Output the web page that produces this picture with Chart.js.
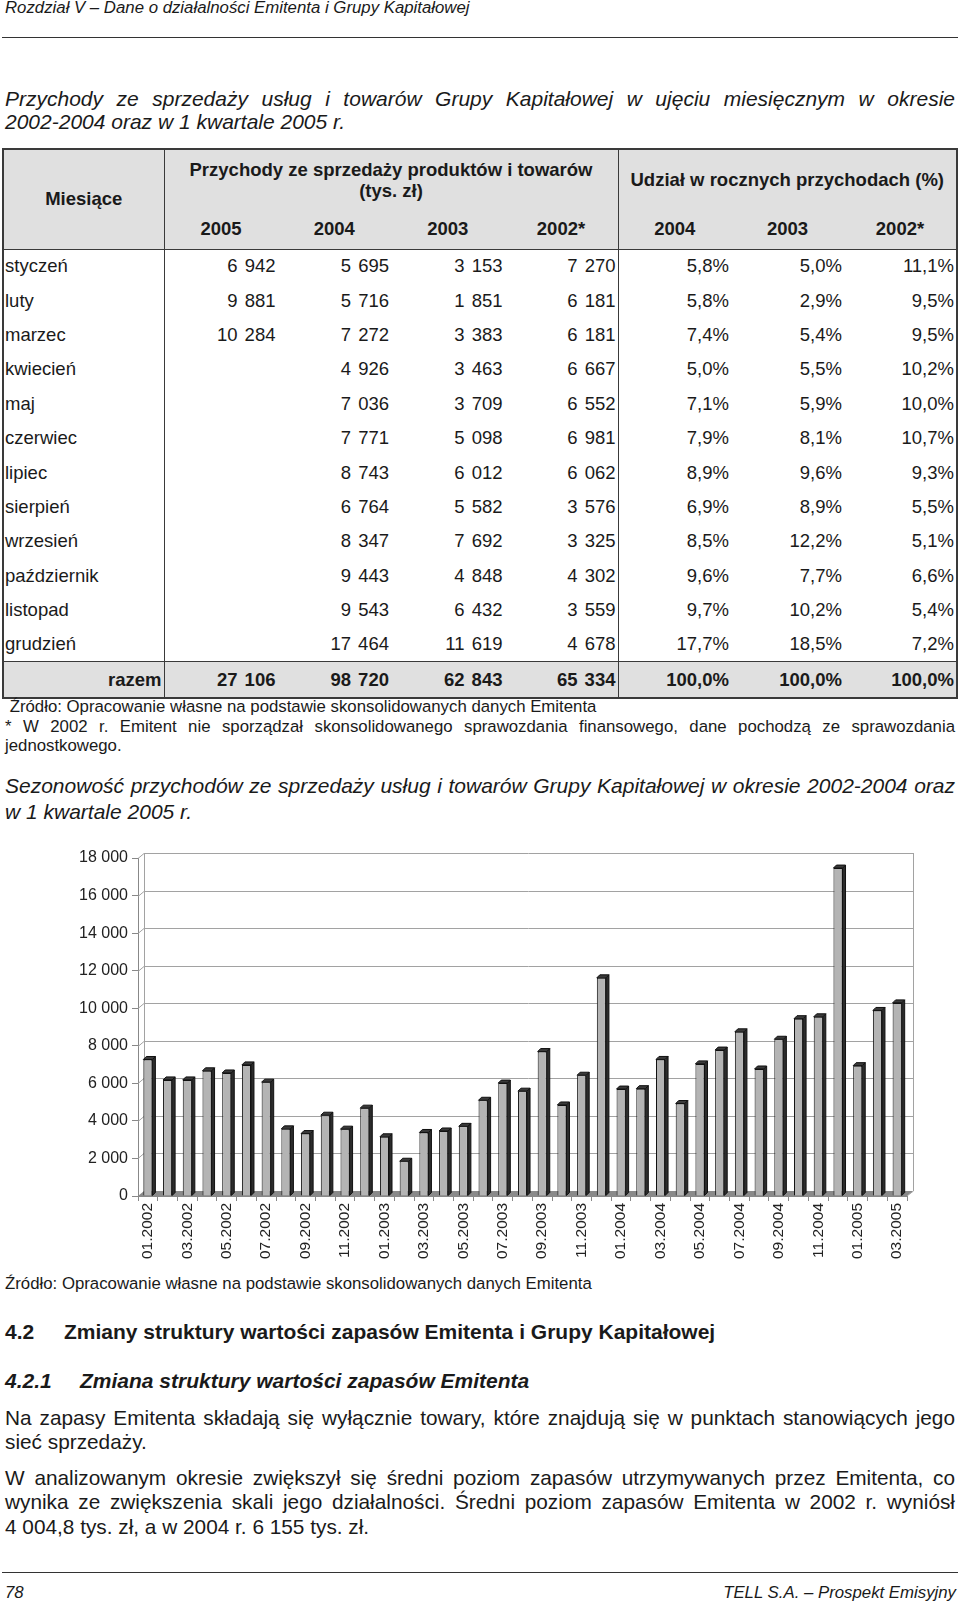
<!DOCTYPE html>
<html lang="pl">
<head>
<meta charset="utf-8">
<title>Sezonowość przychodów</title>
<script src="https://cdn.jsdelivr.net/npm/chart.js@4.4.0/dist/chart.umd.min.js"></script>
<style>
body{margin:0;width:960px;height:1605px;position:relative;overflow:hidden;background:#fff;
  font-family:"Liberation Sans",Arial,Helvetica,sans-serif;color:#1a1a1a}
.t{position:absolute;white-space:nowrap}
.it{font-style:italic}
.rule{position:absolute;left:2px;width:956px;height:1px;background:#333}
.hdr{font-size:16.8px;line-height:18px}
.tit{font-size:21px;line-height:24px;font-style:italic}
.sm{font-size:16.8px;line-height:19px}
.par{font-size:20.8px;line-height:24px}
.h{font-size:21px;line-height:24px;font-weight:bold}
#tab{position:absolute;left:2px;top:148px;border-collapse:collapse;table-layout:fixed;
  border:2px solid #3a3a3a;font-size:18.5px}
#tab td,#tab th{padding:0 2px;white-space:nowrap;overflow:visible}
#tab thead th{background:#e0e0e0;font-weight:bold;font-size:18.5px;text-align:center;vertical-align:middle}
#tab thead tr.r1{height:60px}
#tab thead tr.r2{height:40px}
#tab thead tr.r2 th{border-bottom:1.5px solid #3a3a3a}
#tab tbody tr{height:34.4px}
#tab td{text-align:right;word-spacing:2px}
#tab td.m{text-align:left;padding-left:1px;word-spacing:0}
#tab .sep{border-right:1.5px solid #3a3a3a}
#tab tr.tot td{background:#e0e0e0;font-weight:bold;height:35px;border-top:1.5px solid #3a3a3a}
#wrap{position:absolute;left:0;top:838px;width:960px;height:432px}
</style>
</head>
<body>

<div class="t hdr it" style="left:5px;top:-1px">Rozdział V – Dane o działalności Emitenta i Grupy Kapitałowej</div>
<div class="rule" style="top:37px"></div>

<div class="t tit j" style="left:5px;top:87px">Przychody ze sprzedaży usług i towarów Grupy Kapitałowej w ujęciu miesięcznym w okresie</div>
<div class="t tit" style="left:5px;top:110px">2002-2004 oraz w 1 kwartale 2005 r.</div>

<table id="tab">
<colgroup>
<col style="width:161px"><col style="width:113.5px"><col style="width:113.5px"><col style="width:113.5px"><col style="width:113.5px">
<col style="width:113px"><col style="width:113px"><col style="width:113px">
</colgroup>
<thead>
<tr class="r1">
<th rowspan="2" class="sep" style="border-bottom:1.5px solid #3a3a3a">Miesiące</th>
<th colspan="4" class="sep" style="line-height:21px">Przychody ze sprzedaży produktów i towarów<br>(tys. zł)</th>
<th colspan="3">Udział w rocznych przychodach (%)</th>
</tr>
<tr class="r2" id="years"></tr>
</thead>
<tbody id="rows"></tbody>
</table>

<div class="t sm" style="left:5px;top:696.5px">&nbsp;Źródło: Opracowanie własne na podstawie skonsolidowanych danych Emitenta</div>
<div class="t sm j" style="left:5px;top:716.5px">* W 2002 r. Emitent nie sporządzał skonsolidowanego sprawozdania finansowego, dane pochodzą ze sprawozdania</div>
<div class="t sm" style="left:5px;top:735.5px">jednostkowego.</div>

<div class="t tit j" style="left:5px;top:774px">Sezonowość przychodów ze sprzedaży usług i towarów Grupy Kapitałowej w okresie 2002-2004 oraz</div>
<div class="t tit" style="left:5px;top:800px">w 1 kwartale 2005 r.</div>

<div id="wrap"><canvas id="myChart" width="960" height="432"></canvas></div>

<div class="t sm" style="left:5px;top:1273.5px">Źródło: Opracowanie własne na podstawie skonsolidowanych danych Emitenta</div>

<div class="t h" style="left:5px;top:1320px">4.2</div>
<div class="t h" style="left:64px;top:1320px">Zmiany struktury wartości zapasów Emitenta i Grupy Kapitałowej</div>
<div class="t h it" style="left:5px;top:1369px">4.2.1</div>
<div class="t h it" style="left:80px;top:1369px">Zmiana struktury wartości zapasów Emitenta</div>

<div class="t par j" style="left:5px;top:1406px">Na zapasy Emitenta składają się wyłącznie towary, które znajdują się w punktach stanowiących jego</div>
<div class="t par" style="left:5px;top:1430px">sieć sprzedaży.</div>
<div class="t par j" style="left:5px;top:1466px">W analizowanym okresie zwiększył się średni poziom zapasów utrzymywanych przez Emitenta, co</div>
<div class="t par j" style="left:5px;top:1490px">wynika ze zwiększenia skali jego działalności. Średni poziom zapasów Emitenta w 2002 r. wyniósł</div>
<div class="t par" style="left:5px;top:1515px">4 004,8 tys. zł, a w 2004 r. 6 155 tys. zł.</div>

<div class="rule" style="top:1572px"></div>
<div class="t hdr it" style="left:5px;top:1584px">78</div>
<div class="t hdr it" style="right:4px;top:1584px">TELL S.A. – Prospekt Emisyjny</div>

<script>
var miesiace = ['styczeń','luty','marzec','kwiecień','maj','czerwiec','lipiec','sierpień','wrzesień','październik','listopad','grudzień'];
var lata = ['2005','2004','2003','2002*'];
var lataUdzial = ['2004','2003','2002*'];

var przych2005 = [6942, 9881, 10284];
var przych2004 = [5695, 5716, 7272, 4926, 7036, 7771, 8743, 6764, 8347, 9443, 9543, 17464];
var przych2003 = [3153, 1851, 3383, 3463, 3709, 5098, 6012, 5582, 7692, 4848, 6432, 11619];
var przych2002 = [7270, 6181, 6181, 6667, 6552, 6981, 6062, 3576, 3325, 4302, 3559, 4678];
var razem = [27106, 98720, 62843, 65334];

var udzial2004 = ['5,8%','5,8%','7,4%','5,0%','7,1%','7,9%','8,9%','6,9%','8,5%','9,6%','9,7%','17,7%'];
var udzial2003 = ['5,0%','2,9%','5,4%','5,5%','5,9%','8,1%','9,6%','8,9%','12,2%','7,7%','10,2%','18,5%'];
var udzial2002 = ['11,1%','9,5%','9,5%','10,2%','10,0%','10,7%','9,3%','5,5%','5,1%','6,6%','5,4%','7,2%'];
var udzialRazem = ['100,0%','100,0%','100,0%'];

var okresy = ['01.2002','02.2002','03.2002','04.2002','05.2002','06.2002','07.2002','08.2002','09.2002','10.2002','11.2002','12.2002',
  '01.2003','02.2003','03.2003','04.2003','05.2003','06.2003','07.2003','08.2003','09.2003','10.2003','11.2003','12.2003',
  '01.2004','02.2004','03.2004','04.2004','05.2004','06.2004','07.2004','08.2004','09.2004','10.2004','11.2004','12.2004',
  '01.2005','02.2005','03.2005'];
var yTicks = [0, 2000, 4000, 6000, 8000, 10000, 12000, 14000, 16000, 18000];

function fmt(n){
  if (n === undefined) return '';
  return n.toString().replace(/\B(?=(\d{3})+(?!\d))/g, ' ');
}

function buildTable(){
  var tr = document.getElementById('years');
  var h = '';
  lata.forEach(function(l, i){ h += '<th' + (i == 3 ? ' class="sep"' : '') + '>' + l + '</th>'; });
  lataUdzial.forEach(function(l){ h += '<th>' + l + '</th>'; });
  tr.innerHTML = h;

  var body = '';
  for (var i = 0; i < miesiace.length; i++) {
    body += '<tr><td class="m sep">' + miesiace[i] + '</td>' +
      '<td>' + fmt(przych2005[i]) + '</td><td>' + fmt(przych2004[i]) + '</td><td>' + fmt(przych2003[i]) + '</td>' +
      '<td class="sep">' + fmt(przych2002[i]) + '</td>' +
      '<td>' + udzial2004[i] + '</td><td>' + udzial2003[i] + '</td><td>' + udzial2002[i] + '</td></tr>';
  }
  body += '<tr class="tot"><td class="sep">razem</td>';
  razem.forEach(function(v, i){ body += '<td' + (i == 3 ? ' class="sep"' : '') + '>' + fmt(v) + '</td>'; });
  udzialRazem.forEach(function(v){ body += '<td>' + v + '</td>'; });
  body += '</tr>';
  document.getElementById('rows').innerHTML = body;
}

function justify(){
  var target = 950;
  document.querySelectorAll('.j').forEach(function(el){
    var w = el.getBoundingClientRect().width;
    var gaps = el.textContent.split(' ').length - 1;
    if (gaps > 0) el.style.wordSpacing = ((target - w) / gaps) + 'px';
  });
}

// tylna ściana i podłoga wykresu (efekt 3D)
var sciana = {
  id: 'sciana',
  beforeDatasetsDraw: function(chart){
    var ctx = chart.ctx, a = chart.chartArea, y = chart.scales.y;
    var dx = 6, dy = 5;
    ctx.save();
    ctx.fillStyle = '#8a8a8a';
    ctx.beginPath();
    ctx.moveTo(a.left, a.bottom);
    ctx.lineTo(a.left + dx, a.bottom - dy);
    ctx.lineTo(a.right + dx, a.bottom - dy);
    ctx.lineTo(a.right, a.bottom);
    ctx.closePath();
    ctx.fill();
    ctx.strokeStyle = '#a2a2a2';
    ctx.lineWidth = 1;
    y.ticks.forEach(function(t){
      if (t.value === 0) return;
      var py = Math.round(y.getPixelForValue(t.value)) + 0.5;
      ctx.beginPath();
      ctx.moveTo(a.left, py);
      ctx.lineTo(a.left + dx, py - dy);
      ctx.lineTo(a.right + dx, py - dy);
      ctx.stroke();
    });
    ctx.beginPath();
    ctx.moveTo(a.left + dx + 0.5, a.top - dy);
    ctx.lineTo(a.left + dx + 0.5, a.bottom - dy);
    ctx.moveTo(a.right + dx + 0.5, a.top - dy);
    ctx.lineTo(a.right + dx + 0.5, a.bottom - dy);
    ctx.lineTo(a.right, a.bottom);
    ctx.stroke();
    ctx.restore();
  }
};

var glebia = {
  id: 'glebia',
  afterDatasetsDraw: function(chart){
    var ctx = chart.ctx, d = 3;
    ctx.save();
    ctx.lineWidth = 1;
    ctx.strokeStyle = '#111';
    chart.getDatasetMeta(0).data.forEach(function(b){
      var p = b.getProps(['x', 'y', 'base', 'width'], true);
      var l = p.x - p.width / 2, r = p.x + p.width / 2;
      ctx.fillStyle = '#2c2c2c';
      ctx.beginPath();
      ctx.moveTo(r, p.y); ctx.lineTo(r + d, p.y - d); ctx.lineTo(r + d, p.base - d); ctx.lineTo(r, p.base);
      ctx.closePath(); ctx.fill(); ctx.stroke();
      ctx.fillStyle = '#3a3a3a';
      ctx.beginPath();
      ctx.moveTo(l, p.y); ctx.lineTo(l + d, p.y - d); ctx.lineTo(r + d, p.y - d); ctx.lineTo(r, p.y);
      ctx.closePath(); ctx.fill(); ctx.stroke();
    });
    ctx.restore();
  }
};

function graficar(){
  var wartosci = przych2002.concat(przych2003, przych2004, przych2005);
  var ctx = document.getElementById('myChart').getContext('2d');
  var font = {family: '"Liberation Sans", Arial, sans-serif', size: 15.5};

  window.grafica = new Chart(ctx, {
    type: 'bar',
    data: {
      labels: okresy,
      datasets: [{
        data: wartosci,
        backgroundColor: '#b4b4b4',
        borderColor: '#111',
        borderWidth: 1,
        barPercentage: 0.46,
        categoryPercentage: 1
      }]
    },
    options: {
      responsive: false,
      animation: false,
      devicePixelRatio: 1,
      layout: {padding: {top: 20, right: 53, left: 0, bottom: 0}},
      plugins: {legend: {display: false}, tooltip: {enabled: false}},
      scales: {
        y: {
          min: 0, max: 18000,
          afterBuildTicks: function(s){ s.ticks = yTicks.map(function(v){ return {value: v}; }); },
          afterFit: function(s){ s.width = 138; },
          grid: {drawOnChartArea: false, drawTicks: true, tickLength: 6, color: '#888'},
          border: {display: true, color: '#888'},
          ticks: {font: {family: font.family, size: 16}, color: '#222', padding: 4, callback: function(v){ return fmt(v); }}
        },
        x: {
          afterFit: function(s){ s.height = 74; },
          grid: {offset: true, drawOnChartArea: false, drawTicks: true, tickLength: 5, color: '#888'},
          border: {display: true, color: '#888'},
          ticks: {
            font: font, color: '#222', padding: 2,
            autoSkip: false, minRotation: 90, maxRotation: 90,
            callback: function(v, i){ return i % 2 == 0 ? this.getLabelForValue(v) : ''; }
          }
        }
      }
    },
    plugins: [sciana, glebia]
  });
}

buildTable();
justify();
graficar();
</script>
</body>
</html>
